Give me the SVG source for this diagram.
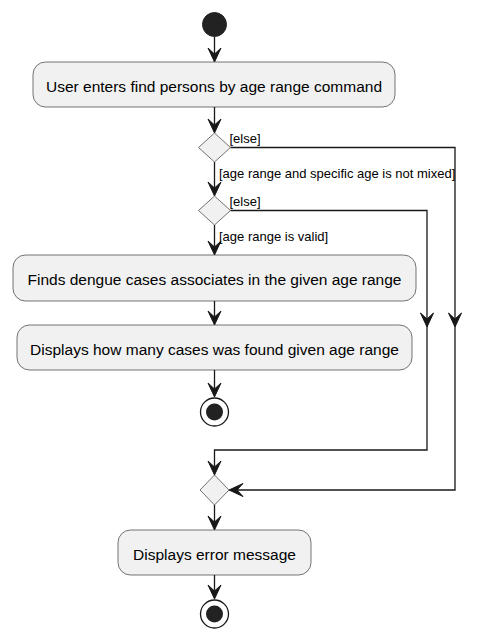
<svg xmlns="http://www.w3.org/2000/svg" width="486" height="640" viewBox="0 0 486 640">
<defs>
<style>
.act{fill:#F1F1F1;stroke:#181818;stroke-width:0.6}
.dia{fill:#F1F1F1;stroke:#181818;stroke-width:0.6}
.ln{fill:none;stroke:#181818;stroke-width:1.3}
.ah{fill:#181818;stroke:#181818;stroke-width:1}
.t{font-family:"Liberation Sans",Arial,sans-serif;font-size:15.5px;fill:#000;text-anchor:middle}
.lb{font-family:"Liberation Sans",Arial,sans-serif;font-size:13px;fill:#000}
</style>
<polygon id="ad" points="-6.5,-14 0,0 6.5,-14 0,-8"/>
</defs>
<rect width="486" height="640" fill="#FFFFFF"/>
<g id="connectors">
<line class="ln" x1="214.5" y1="37" x2="214.5" y2="60"/>
<use href="#ad" class="ah" x="214.5" y="62"/>
<line class="ln" x1="214.5" y1="107" x2="214.5" y2="131"/>
<use href="#ad" class="ah" x="214.5" y="133"/>
<line class="ln" x1="214.5" y1="162" x2="214.5" y2="194"/>
<use href="#ad" class="ah" x="214.5" y="196"/>
<polyline class="ln" points="230.5,147.5 455,147.5 455,490 231,490"/>
<use href="#ad" class="ah" x="455" y="327"/>
<use href="#ad" class="ah" transform="translate(229,490) rotate(90)"/>
<line class="ln" x1="214.5" y1="225" x2="214.5" y2="253"/>
<use href="#ad" class="ah" x="214.5" y="255"/>
<polyline class="ln" points="230.5,210.5 427,210.5 427,450 214.5,450 214.5,473"/>
<use href="#ad" class="ah" x="427" y="327"/>
<use href="#ad" class="ah" x="214.5" y="475"/>
<line class="ln" x1="214.5" y1="301" x2="214.5" y2="323"/>
<use href="#ad" class="ah" x="214.5" y="325"/>
<line class="ln" x1="214.5" y1="370" x2="214.5" y2="395"/>
<use href="#ad" class="ah" x="214.5" y="397"/>
<line class="ln" x1="214.5" y1="505" x2="214.5" y2="528"/>
<use href="#ad" class="ah" x="214.5" y="530"/>
<line class="ln" x1="214.5" y1="575" x2="214.5" y2="597"/>
<use href="#ad" class="ah" x="214.5" y="599"/>
<text class="lb" x="229.5" y="142.5">[else]</text>
<text class="lb" x="219" y="177.5">[age range and specific age is not mixed]</text>
<text class="lb" x="229.5" y="205.5">[else]</text>
<text class="lb" x="219" y="240.5">[age range is valid]</text>
</g>
<g id="start"><circle cx="214.5" cy="24.5" r="12" fill="#222222" stroke="#222222" stroke-width="1"/></g>
<g id="box1"><rect class="act" x="33" y="62" width="362" height="45" rx="12.5"/><text class="t" x="214" y="91.5">User enters find persons by age range command</text></g>
<g id="dec1"><polygon class="dia" points="214.5,133 230.5,147.5 214.5,162 198.5,147.5"/></g>
<g id="dec2"><polygon class="dia" points="214.5,196 230.5,210.5 214.5,225 198.5,210.5"/></g>
<g id="box2"><rect class="act" x="13" y="255" width="403" height="46" rx="12.5"/><text class="t" x="214.5" y="285">Finds dengue cases associates in the given age range</text></g>
<g id="box3"><rect class="act" x="17" y="325" width="395" height="45" rx="12.5"/><text class="t" x="214.5" y="355">Displays how many cases was found given age range</text></g>
<g id="end1"><circle cx="214.5" cy="412" r="14" fill="none" stroke="#181818" stroke-width="1.3"/><circle cx="214.5" cy="412" r="8.5" fill="#222222"/></g>
<g id="merge"><polygon class="dia" points="214.5,475 229,490 214.5,505 200,490"/></g>
<g id="box4"><rect class="act" x="118" y="530" width="193" height="45" rx="12.5"/><text class="t" x="214.5" y="559.5">Displays error message</text></g>
<g id="end2"><circle cx="214.5" cy="614" r="14" fill="none" stroke="#181818" stroke-width="1.3"/><circle cx="214.5" cy="614" r="8.5" fill="#222222"/></g>
</svg>
